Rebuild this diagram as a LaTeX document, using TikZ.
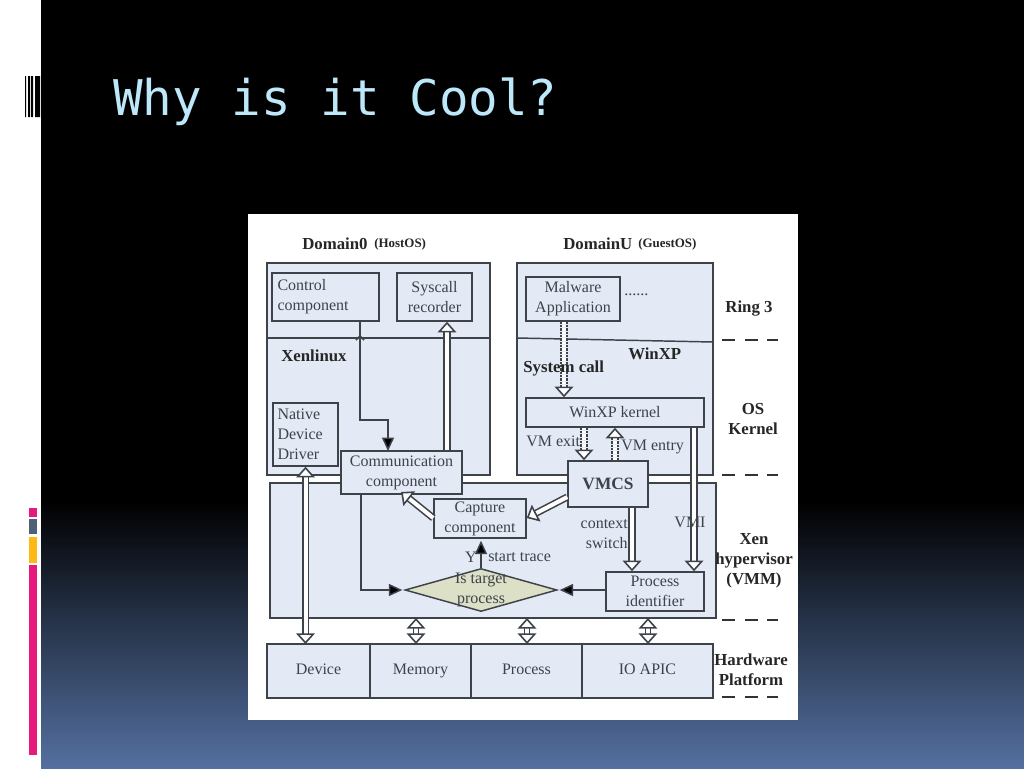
\documentclass[tikz,border=0pt]{standalone}
\usepackage{fontspec}
\setmainfont{Liberation Serif}
\newfontfamily\titlefont{DejaVu Sans Mono}
\usetikzlibrary{arrows.meta, positioning, shapes.geometric, calc}
\definecolor{boxblue}{HTML}{E3EAF6}
\definecolor{inkgrey}{HTML}{3E434A}
\definecolor{diamondgreen}{HTML}{DCE0C6}
\definecolor{titleblue}{HTML}{BDE8FA}
\definecolor{slidepink}{HTML}{E8197D}
\definecolor{slidegrey}{HTML}{4F6078}
\definecolor{slideorange}{HTML}{FDB813}
\tikzset{%
	wh/.style 2 args={minimum width=#1*0.75pt, minimum height=#2*0.75pt},
	region/.style={draw=inkgrey, line width=1.1pt, fill=boxblue},
	box/.style={draw=inkgrey, line width=1.1pt, fill=boxblue, inner sep=0pt, align=center,%
		text=inkgrey, font=\fontsize{12}{15}\selectfont},
	hwbox/.style={box, wh={#1}{54}, outer sep=0pt, text height=8pt, text depth=2.5pt},
	label/.style={inner sep=0pt, align=center, text=inkgrey, font=\fontsize{12}{15}\selectfont},
	side/.style={inner sep=0pt, align=center, text=black!85, font=\fontsize{12.6}{15}\selectfont\bfseries},
	tiny/.style={inner sep=0pt, text=black!85, font=\fontsize{9.7}{11}\selectfont\bfseries},
	wire/.style={draw=inkgrey, line width=1.1pt},
	sel/.style={wire, shorten >=1.5pt, -{Triangle[length=10pt, width=9pt, fill=black]}},
	hollow/.style={draw=inkgrey, line width=1.2pt, double=white, double distance=3pt,%
		-{Triangle[length=8pt, width=14pt, fill=white, line width=1.2pt]}},
	both/.style={hollow, {Triangle[length=8pt, width=14pt, fill=white, line width=1.2pt]}-{Triangle[length=8pt, width=14pt, fill=white, line width=1.2pt]}},
	dotted hollow/.style={hollow, dash pattern=on 1.6pt off 0.9pt},
	layer line/.style={draw=black!80, line width=1.1pt, dash pattern=on 10pt off 7pt}
}
\begin{document}
\begin{tikzpicture}[x=0.75pt, y=-0.75pt]
	\useasboundingbox (0,0) rectangle (1024,768);
	% slide
	\fill[white] (0,0) rectangle (1024,768);
	\fill[black] (41,0) rectangle (1024,500);
	\shade[top color=black, bottom color={rgb,255:red,84;green,112;blue,160}] (41,500) rectangle (1024,768);
	\fill[black] (25,76) rectangle (26,117) (28,76) rectangle (30,117) (31,76) rectangle (33,117) (35,76) rectangle (40,117);
	\fill[slidepink] (28.5,508) rectangle (37,517);
	\fill[slidegrey] (28.5,519) rectangle (37,534);
	\fill[slideorange] (28.5,537) rectangle (37,563);
	\fill[slidepink] (28.5,565) rectangle (37,755);
	\node[anchor=west, inner sep=0pt, text=titleblue, font=\titlefont\fontsize{36.9}{40}\selectfont] (title) at (113,102) {Why is it Cool?};
	\fill[white] (248,214) rectangle (798,720);

	% domains and hypervisor
	\draw[region] (267,263) rectangle (490,475);
	\draw[region] (517,263) rectangle (713,475);
	\draw[region] (270,483) rectangle (716,618);
	\draw[wire] (267,338) -- (490,338);
	\draw[wire] (517,338) -- (713,342);

	\node[side, anchor=west] (dom0) at (302,244) {Domain0};
	\node[tiny, anchor=west] (host) at (374,244) {(HostOS)};
	\node[side, anchor=west] (domU) at (563,244) {DomainU};
	\node[tiny, anchor=west] (guest) at (638,244) {(GuestOS)};
	\node[side, anchor=west] (xenlinux) at (281,356) {Xenlinux};
	\node[side, anchor=west] (winxp) at (628,354) {WinXP};

	\node[box, wh={107}{48}, align=left, text width=96*0.75pt] (control) at (325.5,297) {Control\\component};
	\node[box, wh={75}{48}] (syscall) at (434.5,297) {Syscall\\recorder};
	\node[box, wh={65}{63}, align=left, text width=56*0.75pt] (native) at (305.5,434.5) {Native\\Device\\Driver};
	\node[box, wh={94}{44}] (malware) at (573,299) {Malware\\Application};
	\node[label, anchor=west] (dots) at (624,295) {......};
	\node[box, wh={178}{29}] (kernel) at (615,412.5) {WinXP kernel};

	\draw[sel, shorten >=0pt] (control.south -| 360,0) -- (360,420) -- (388,420) -- (388,451);
	\draw[wire] (356,340) -- (360,336) -- (364,340);

	\node[box, wh={121}{43}] (comm) at (401.5,472.5) {Communication\\component};
	\node[box, wh={80}{46}] (vmcs) at (608,484) {\fontsize{13}{15}\selectfont\bfseries VMCS};
	\node[box, wh={92}{39}] (capture) at (480,518.5) {Capture\\component};
	\node[box, wh={98}{39}] (procid) at (655,591.5) {Process\\identifier};
	\node[diamond, draw=inkgrey, line width=1.1pt, fill=diamondgreen, wh={152}{43}, inner sep=0pt] (target) at (481,590) {};
	\node[label] (targettxt) at (target.center) {Is target\\process};

	% hardware row
	\node[hwbox=103] (device) at (318.5,671) {Device};
	\node[hwbox=101, right=0pt of device] (memory) {Memory};
	\node[hwbox=111, right=0pt of memory] (process) {Process};
	\node[hwbox=131, right=0pt of process] (ioapic) {IO APIC};

	% connectors
	\draw[hollow] (comm.north -| 447,0) -- (syscall.south -| 447,0);
	\draw[both] (native.south) -- (device.north -| native.south);
	\draw[dotted hollow] (malware.south -| 564,0) -- (kernel.north -| 564,0);
	\draw[dotted hollow] (kernel.south -| 584,0) -- (vmcs.north -| 584,0);
	\draw[dotted hollow] (vmcs.north -| 615,0) -- (kernel.south -| 615,0);
	\draw[hollow] (vmcs.south -| 632,0) -- (procid.north -| 632,0);
	\draw[hollow] (kernel.south -| 694,0) -- (procid.north -| 694,0);
	\draw[hollow] (capture.west |- 0,518) -- (401,492);
	\draw[hollow] (vmcs.west |- 0,497) -- (capture.east |- 0,518);
	\draw[sel] (target.north) -- (capture.south -| target.north);
	\draw[sel] (comm.south -| 361,0) -- (361,590) -- (target.west);
	\draw[sel] (procid.west |- target.east) -- (target.east);
	\foreach \xpos/\hw in {416/memory, 527/process, 648/ioapic}
		\draw[both, double distance=2.5pt] (\xpos,618) -- (\hw.north -| \xpos,0);

	% labels on top of the connectors
	\node[side, anchor=west] (syscalltxt) at (523,368) {System call};
	\node[label, anchor=west] (vmexit) at (526,441) {VM exit};
	\node[label, anchor=west] (vmentry) at (621,447) {VM entry};
	\node[label, align=right, anchor=east] (context) at (628,534) {context\\switch};
	\node[label] (vmi) at (690,522) {VMI};
	\node[label] (yes) at (471,557) {Y};
	\node[label, anchor=west] (trace) at (488,557) {start trace};

	% layers on the right
	\node[side] (ring) at (749,309) {Ring 3};
	\node[side] (oskernel) at (753,419) {OS\\Kernel};
	\node[side] (xenvmm) at (754,561) {Xen\\hypervisor\\(VMM)};
	\node[side] (hwplat) at (751,670) {Hardware\\Platform};
	\foreach \ypos in {340,475,620,697}
		\draw[layer line] (722,\ypos) -- (778,\ypos);
\end{tikzpicture}
\end{document}
